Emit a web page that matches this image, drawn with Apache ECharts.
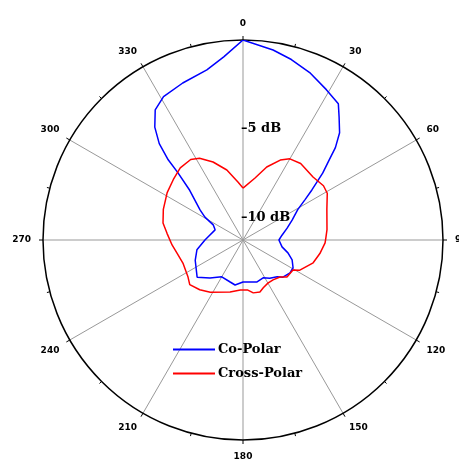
<!DOCTYPE html>
<html>
<head>
<meta charset="utf-8">
<script src="https://cdn.jsdelivr.net/npm/echarts@6/dist/echarts.min.js"></script>
<style>
html, body { margin: 0; padding: 0; background: #fff; }
#chart { width: 459px; height: 459px; }
</style>
</head>
<body>
<div id="chart"></div>
<script>
// angles in degrees (clockwise from top), levels in dB
const coAngles = [0, 9, 15, 22, 29, 35, 38, 42, 45, 47, 50, 54, 57, 61, 68, 75, 83, 90, 100, 106, 112, 119, 125, 133, 137, 145, 152, 162, 167, 180, 190, 197, 210, 221, 231, 247, 258, 270, 275, 290, 297, 301, 305, 313, 316, 317, 319, 322, 326, 331, 339, 348, 354, 360];
const coLevels = [0, -0.43, -0.74, -1.13, -1.58, -1.9, -2.47, -3.13, -3.9, -4.6, -5.4, -6.46, -7.1, -7.73, -8.27, -8.68, -9.04, -9.23, -9.02, -8.62, -8.27, -8.03, -8.02, -8.18, -8.43, -8.63, -8.84, -8.76, -8.82, -8.89, -8.68, -8.78, -8.86, -8.42, -7.93, -8.33, -8.6, -9.11, -9.27, -9.58, -9.37, -8.75, -8.3, -7.15, -5.96, -5.08, -4.07, -3.19, -2.42, -2.03, -1.79, -1.47, -0.89, 0];

const crossAngles = [0, 11, 18, 25, 30, 37, 48, 56, 61, 70, 83, 88, 92, 100, 108, 118, 121, 130, 135, 143, 150, 157, 162, 169, 175, 183, 194, 212, 221, 230, 236, 249, 259, 266, 275, 282, 291, 302, 311, 319, 327, 332, 339, 347, 355, 360];
const crossLevels = [-8.33, -7.7, -6.93, -6.29, -5.98, -5.86, -5.95, -5.79, -5.83, -6.23, -6.49, -6.58, -6.63, -6.86, -7.1, -7.63, -7.97, -8.02, -8.31, -8.44, -8.45, -8.33, -8.17, -8.22, -8.43, -8.43, -8.24, -7.78, -7.54, -7.34, -7.52, -7.63, -7.46, -7.25, -6.96, -6.65, -6.45, -6.22, -6.06, -5.87, -5.85, -6.04, -6.55, -7.21, -7.98, -8.33];

const seriesNames = ['Co-Polar', 'Cross-Polar'];
const radiusLabels = [-10, -5];

const toPairs = function (angles, levels) {
    return angles.map((a, i) => [levels[i], a]);
};

const chart = echarts.init(document.getElementById('chart'));

chart.setOption({
    animation: false,
    backgroundColor: '#fff',
    polar: { center: [243, 240], radius: 200 },
    angleAxis: {
        type: 'value',
        min: 0,
        max: 360,
        interval: 30,
        startAngle: 90,
        clockwise: true,
        axisLine: { lineStyle: { color: '#000', width: 1.5 } },
        axisTick: { show: true, length: 4, lineStyle: { color: '#000' } },
        minorTick: { show: true, splitNumber: 2, length: 3, lineStyle: { color: '#000' } },
        splitLine: { show: true, lineStyle: { color: '#999', width: 1 } },
        axisLabel: {
            fontFamily: 'DejaVu Sans', fontWeight: 'bold', fontSize: 9, color: '#000', margin: 12,
            formatter: v => (v === 360 ? '' : String(v))
        }
    },
    radiusAxis: {
        type: 'value',
        min: -11.25,
        max: 0,
        interval: 1.25,
        axisLine: { show: false },
        axisTick: { show: false },
        splitLine: { show: false },
        axisLabel: {
            fontFamily: 'DejaVu Serif', fontWeight: 'bold', fontSize: 13, color: '#000', margin: 2, align: 'left',
            formatter: v => (radiusLabels.indexOf(v) >= 0 ? '\u2013' + Math.abs(v) + ' dB' : '')
        }
    },
    legend: {
        orient: 'vertical',
        left: 168,
        top: 338,
        itemWidth: 42,
        itemHeight: 12,
        itemGap: 11,
        icon: 'path://M0,5L42,5L42,7L0,7Z',
        textStyle: { fontFamily: 'DejaVu Serif', fontWeight: 'bold', fontSize: 13, color: '#000', padding: [0, 0, 0, -2] },
        data: seriesNames
    },
    series: [
        {
            name: seriesNames[0],
            type: 'line',
            coordinateSystem: 'polar',
            showSymbol: false,
            lineStyle: { color: '#0000ff', width: 1.5 },
            itemStyle: { color: '#0000ff' },
            data: toPairs(coAngles, coLevels)
        },
        {
            name: seriesNames[1],
            type: 'line',
            coordinateSystem: 'polar',
            showSymbol: false,
            lineStyle: { color: '#ff0000', width: 1.5 },
            itemStyle: { color: '#ff0000' },
            data: toPairs(crossAngles, crossLevels)
        }
    ]
});
</script>
</body>
</html>
